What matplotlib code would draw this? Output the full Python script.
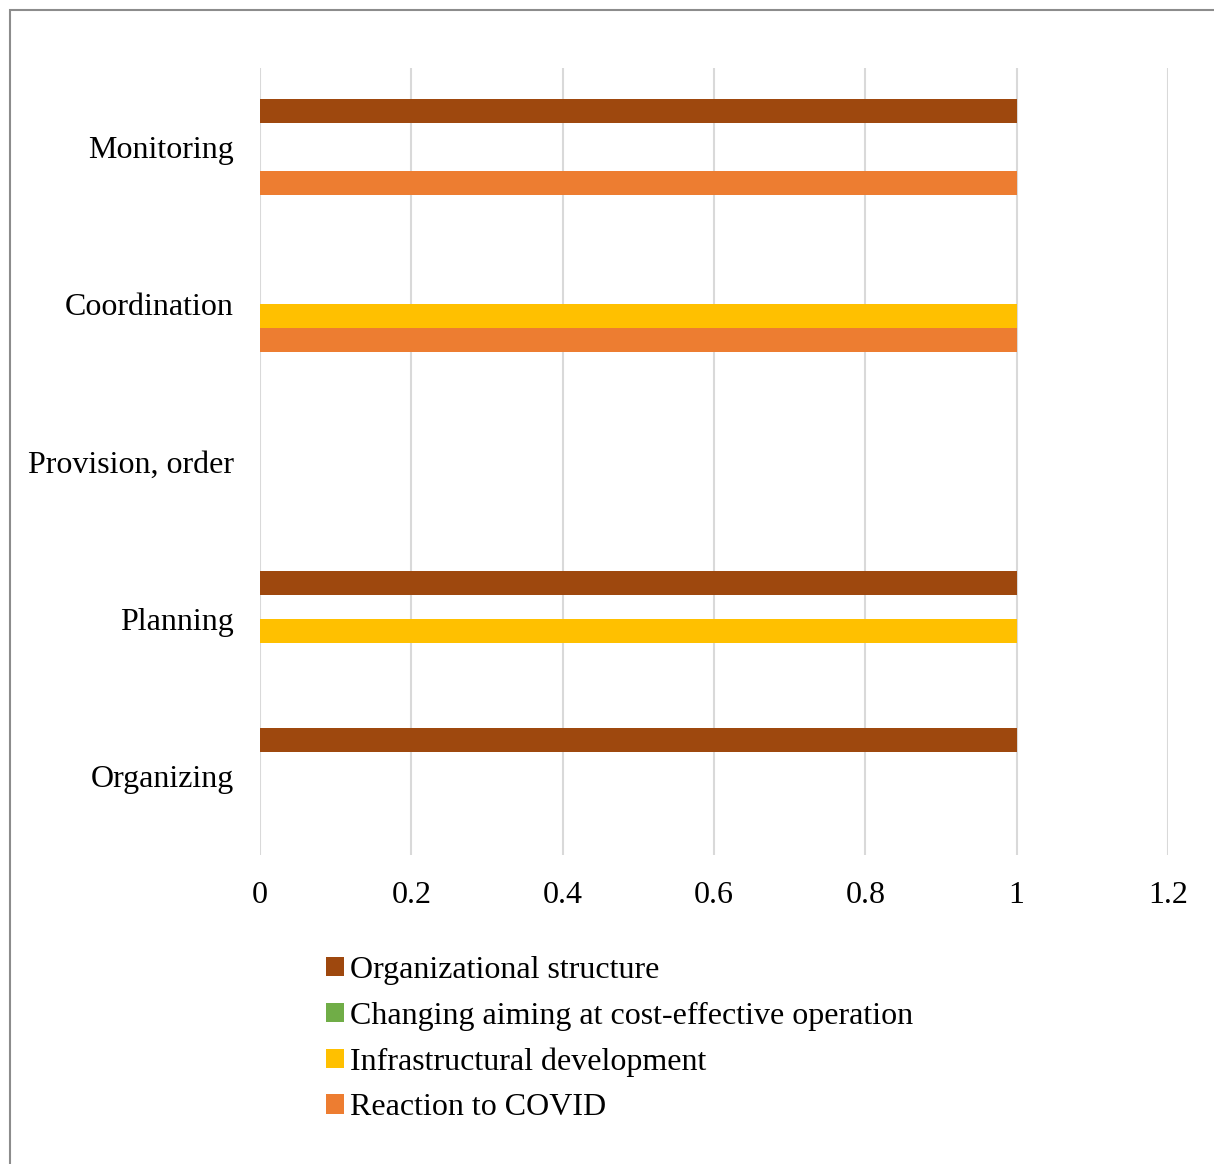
import matplotlib
matplotlib.use("Agg")
import matplotlib.pyplot as plt
from matplotlib.patches import Rectangle
import numpy as np

# categories from top to bottom
categories = ["Monitoring", "Coordination", "Provision, order", "Planning", "Organizing"]

series_names = ["Organizational structure",
                "Changing aiming at cost-effective operation",
                "Infrastructural development",
                "Reaction to COVID"]
org_structure = [1, 0, 0, 1, 1]
cost_effective = [0, 0, 0, 0, 0]
infrastructure = [0, 1, 0, 1, 0]
covid = [1, 1, 0, 0, 0]

xticks = [0, 0.2, 0.4, 0.6, 0.8, 1, 1.2]
xtick_labels = ["0", "0.2", "0.4", "0.6", "0.8", "1", "1.2"]

colors = ["#9E480E", "#70AD47", "#FFC000", "#ED7D31"]

plt.rcParams['font.family'] = ['Liberation Serif', 'DejaVu Serif']

W, H = 1214, 1164
fig = plt.figure(figsize=(W / 100, H / 100), dpi=100)
fig.patch.set_facecolor("white")

# plot area
left, right, top, bottom = 260, 1168, 68, 855
ax = fig.add_axes([left / W, 1 - bottom / H, (right - left) / W, (bottom - top) / H])

y = np.arange(len(categories))
bar_h = 0.152
all_series = [org_structure, cost_effective, infrastructure, covid]
for i, vals in enumerate(all_series):
    ax.barh(y + (i - 1.5) * bar_h, vals, height=bar_h, color=colors[i],
            label=series_names[i], linewidth=0, zorder=3)

ax.set_xlim(0, 1.2)
ax.set_ylim(len(categories) - 0.5, -0.5)
ax.set_xticks(xticks)
ax.set_xticklabels(xtick_labels)
ax.set_yticks(y)
ax.set_yticklabels(categories)
ax.tick_params(axis="both", length=0, labelsize=23, colors="black")
ax.tick_params(axis="x", pad=19)
ax.tick_params(axis="y", pad=19)
ax.xaxis.grid(True, color="#d9d9d9", linewidth=1.5, zorder=0)
ax.set_axisbelow(True)
for s in ax.spines.values():
    s.set_visible(False)

leg = fig.legend(loc="upper left", bbox_to_anchor=(326 / W, 1 - 956 / H),
                 frameon=False, fontsize=23, handlelength=0.55, handleheight=0.55,
                 handletextpad=0.2, labelspacing=0.52, borderpad=0, borderaxespad=0)

# outer chart border (only top and left visible in reference)
fig.patches.append(Rectangle((10 / W, -0.5), 2, 1 - 10 / H + 0.5,
                             transform=fig.transFigure, fill=False,
                             edgecolor="#8c8c8c", linewidth=1.5))

fig.savefig("out.png", dpi=100, facecolor="white")
